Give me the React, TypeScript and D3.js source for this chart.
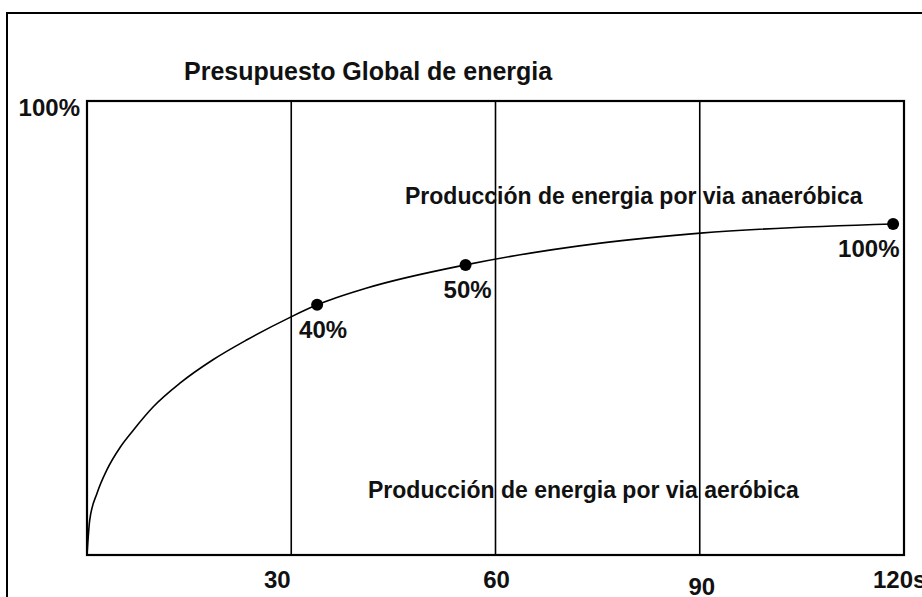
import React from 'react';
import * as d3 from 'd3';

// curve: time (s) vs share of total energy (%)
const curveTime = [0, 0.4, 1.5, 2.9, 4.9, 6.8, 9.7, 13.7, 18.5, 23.5, 29.9, 33.8, 41.1, 55.6, 75.4, 90.1, 118.4];
const curveShare = [0, 7.7, 13.7, 18.7, 23.8, 27.5, 32.6, 37.9, 43.0, 47.4, 52.4, 55.1, 58.8, 63.9, 68.7, 70.9, 72.9];

// marked points and their labels
const markTime = [33.8, 55.6, 118.4];
const markShare = [55.1, 63.9, 72.9];
const markLabels = ['40%', '50%', '100%'];

// x axis
const tickValues = [30, 60, 90, 120];
const tickLabels = ['30', '60', '90', '120s'];
const gridValues = [30, 60, 90];

const title = 'Presupuesto Global de energia';
const topLabel = '100%';
const anaerobicText = 'Producción de energia por via anaeróbica';
const aerobicText = 'Producción de energia por via aeróbica';

const W = 922;
const H = 597;
const font = '"Liberation Sans", Arial, sans-serif';

export default function App() {
  const x = d3.scaleLinear().domain([0, 120]).range([87, 904]);
  const y = d3.scaleLinear().domain([0, 100]).range([555, 101]);

  const pts: [number, number][] = curveTime.map((t, i) => [t, curveShare[i]]);
  const line = d3.line<[number, number]>()
    .x(d => x(d[0]))
    .y(d => y(d[1]))
    .curve(d3.curveMonotoneX);

  // small nudges so the scanned labels sit where they do in the original
  const labelDx = [-14, 1, 2, -31];
  const labelDy = [0, 0, 7, 0];
  const markDx = [-18, -22, -55];

  return (
    <svg width={W} height={H} style={{ display: 'block', position: 'absolute', left: 0, top: 0, background: '#fff' }}>
      <rect x={0} y={0} width={W} height={H} fill="#fff" />
      {/* outer frame, runs off the page at right and bottom */}
      <rect x={7} y={13} width={1000} height={1000} fill="none" stroke="#000" strokeWidth={2} />

      <text x={184} y={80} fontFamily={font} fontWeight="bold" fontSize={25} fill="#111">{title}</text>

      {/* plot frame */}
      <rect x={x(0)} y={y(100)} width={x(120) - x(0)} height={y(0) - y(100)} fill="none" stroke="#000" strokeWidth={2.2} />
      <text x={x(0) - 7} y={y(100) + 15} textAnchor="end" fontFamily={font} fontWeight="bold" fontSize={24} fill="#111">{topLabel}</text>

      {gridValues.map(v => (
        <line key={v} x1={x(v)} x2={x(v)} y1={y(100)} y2={y(0)} stroke="#000" strokeWidth={1.6} />
      ))}

      <path d={line(pts) ?? ''} fill="none" stroke="#000" strokeWidth={1.6} />

      {markTime.map((t, i) => (
        <g key={i}>
          <circle cx={x(t)} cy={y(markShare[i])} r={6} fill="#000" />
          <text
            x={x(t) + markDx[i]}
            y={y(markShare[i]) + 33}
            fontFamily={font}
            fontWeight="bold"
            fontSize={24}
            fill="#111"
          >
            {markLabels[i]}
          </text>
        </g>
      ))}

      <text x={405} y={204} fontFamily={font} fontWeight="bold" fontSize={23} fill="#111">{anaerobicText}</text>
      <text x={368} y={498} fontFamily={font} fontWeight="bold" fontSize={23} fill="#111">{aerobicText}</text>

      {tickValues.map((v, i) => (
        <text
          key={v}
          x={x(v) + labelDx[i]}
          y={588 + labelDy[i]}
          textAnchor={i === tickValues.length - 1 ? 'start' : 'middle'}
          fontFamily={font}
          fontWeight="bold"
          fontSize={24}
          fill="#111"
        >
          {tickLabels[i]}
        </text>
      ))}
    </svg>
  );
}
